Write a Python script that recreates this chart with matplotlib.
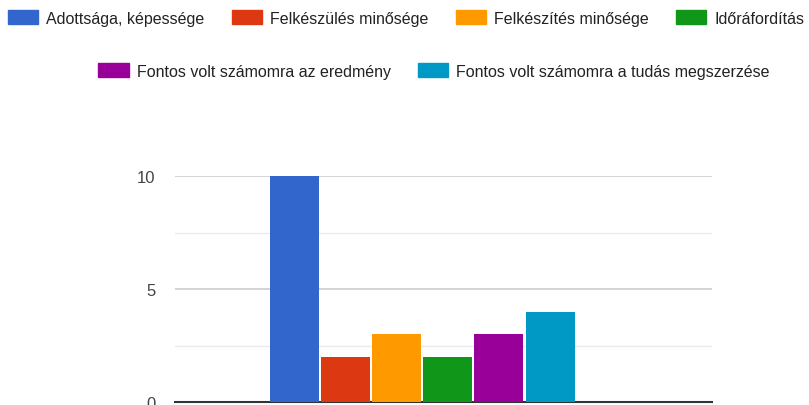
import matplotlib.pyplot as plt
from matplotlib.patches import Patch

labels = ['Adottsága, képessége', 'Felkészülés minősége', 'Felkészítés minősége',
          'Időráfordítás', 'Fontos volt számomra az eredmény',
          'Fontos volt számomra a tudás megszerzése']
values = [10, 2, 3, 2, 3, 4]
colors = ['#3366cc', '#dc3912', '#ff9900', '#109618', '#990099', '#0099c6']

plt.rcParams['font.family'] = ['Liberation Sans', 'DejaVu Sans']

fig = plt.figure(figsize=(8.09, 4.06), dpi=100)
ax = fig.add_axes([175/809, 3/406, (712-175)/809, (403-177)/406])

xs = range(len(values))
ax.bar(xs, values, width=0.96, color=colors, zorder=3)

ax.set_ylim(0, 10)
ax.set_xlim(-2.34, 8.17)
ax.set_yticks([0, 5, 10])
ax.set_yticks([2.5, 7.5], minor=True)
ax.set_xticks([])
ax.grid(axis='y', which='major', color='#cccccc', lw=1.2, zorder=0)
ax.grid(axis='y', which='minor', color='#ebebeb', lw=1.0, zorder=0)
ax.tick_params(axis='y', which='both', length=0, labelsize=12, labelcolor='#444444', pad=14)
for s in ['top', 'right', 'left']:
    ax.spines[s].set_visible(False)
ax.spines['bottom'].set_color('#333333')
ax.spines['bottom'].set_linewidth(1.5)
ax.spines['bottom'].set_clip_on(False)

handles = [Patch(color=c) for c in colors]
kw = dict(frameon=False, fontsize=11.5, handlelength=1.9, handleheight=1.0,
          handletextpad=0.5, columnspacing=1.7, borderpad=0, borderaxespad=0)
leg1 = fig.legend(handles[:4], labels[:4], ncol=4, loc='center',
                  bbox_to_anchor=(406/809, 1 - 19/406), **kw)
leg2 = fig.legend(handles[4:], labels[4:], ncol=2, loc='center',
                  bbox_to_anchor=(434/809, 1 - 72/406), **kw)
for leg in (leg1, leg2):
    for t in leg.get_texts():
        t.set_color('#222222')

fig.savefig('out.png', dpi=100)
